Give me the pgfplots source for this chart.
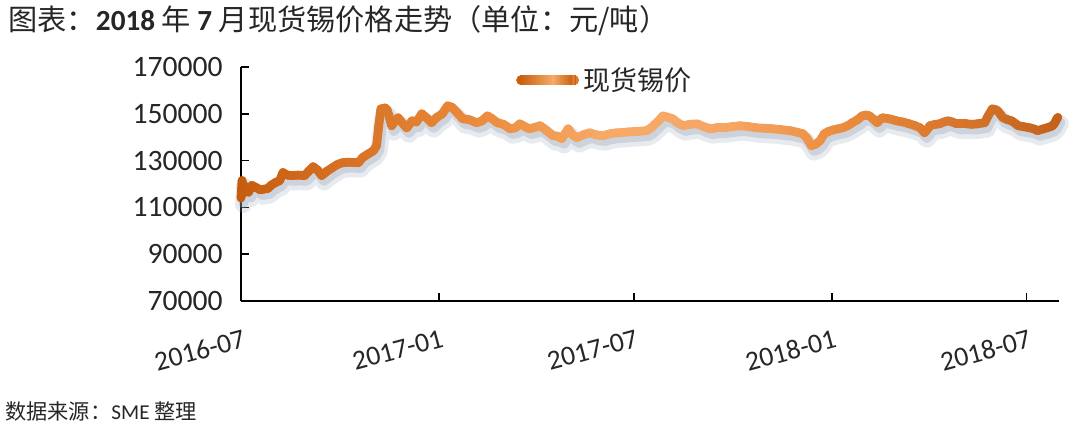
\documentclass[border=0pt]{standalone}
\usepackage{pgfplots}
\pgfplotsset{compat=1.18}
\usepackage{pgfplotstable}
\usepackage{fontspec}
\setmainfont{Carlito}
\newfontfamily\cjk{Noto Sans CJK SC}

\pgfplotstableread{
d price
0 114000
1 121500
2 116000
4 119000
7 116500
10 119400
14 118500
18 117500
25 118100
28 119500
32 120600
36 121500
39 124900
43 123800
47 123600
53 123800
59 123600
63 125500
67 127400
71 126000
75 123600
80 125500
85 127000
89 128200
94 129100
100 129300
109 129100
113 131300
118 132800
123 134200
126 136400
128 145000
130 152100
134 152500
136 151500
140 144900
143 147000
146 148300
150 146000
154 144000
159 147000
163 146500
168 150000
173 148000
177 146200
182 148500
187 150000
192 153400
196 152800
201 150400
206 147900
212 147500
219 146200
224 147000
229 149100
233 148000
238 146200
244 145500
250 143600
255 144000
259 145700
264 144500
268 143600
273 144200
278 144900
284 142800
290 140600
294 140500
298 139400
301 141500
304 143600
308 141000
312 139800
318 141000
324 141900
330 141000
336 140600
343 141500
349 141900
355 142000
361 142300
369 142500
377 142800
381 144000
385 145700
389 147500
392 149100
397 148500
401 147900
406 146000
411 144900
417 145500
424 145700
430 144500
436 143600
442 144000
448 144000
456 144500
464 144900
472 144500
479 144000
487 143800
494 143600
502 143200
510 142800
516 142200
522 141500
526 139500
530 136400
534 137000
538 138500
542 141500
546 142500
550 143100
555 143600
559 144000
564 145000
568 146200
573 147500
577 149100
581 149500
584 149100
588 147500
591 146200
594 147500
596 148300
603 147800
609 147000
615 146500
621 145700
626 145000
631 144000
635 141900
638 143500
640 144900
645 145500
649 145700
653 146500
657 147000
661 146500
665 145700
670 145700
674 145700
679 145500
684 145700
691 146200
694 149000
698 152100
701 151800
703 151300
706 149500
708 148300
712 147500
716 147000
719 146000
722 144900
727 144500
733 144000
737 143500
740 142800
745 143500
749 144000
752 144500
754 144900
756 146000
758 147900
759 148500
}\tinprice

\definecolor{darkor}{RGB}{200,96,14}
\definecolor{midor}{RGB}{222,122,44}
\definecolor{lightor}{RGB}{246,170,104}
\definecolor{shadowc}{RGB}{145,158,180}

\begin{document}
\begin{tikzpicture}
\begin{axis}[
  scale only axis,
  width=409bp, height=117bp,
  xmin=0, xmax=760,
  ymin=70000, ymax=170000,
  axis x line*=bottom,
  axis y line*=left,
  axis line style={line width=0.9bp, black},
  tick style={line width=0.8bp, black},
  tick align=inside,
  major tick length=4bp,
  xtick={0,184,365,549,730},
  xticklabels={2016-07,2017-01,2017-07,2018-01,2018-07},
  ytick={70000,90000,110000,130000,150000,170000},
  scaled y ticks=false,
  /pgf/number format/fixed,
  /pgf/number format/precision=0,
  /pgf/number format/1000 sep={},
  /pgf/number format/assume math mode=true,
  yticklabel style={font=\fontsize{14.8bp}{16bp}\selectfont, text=black!85,
    anchor=east, inner sep=0pt, xshift=-9bp},
  xticklabel style={font=\fontsize{13.8bp}{15bp}\selectfont, text=black!85,
    rotate=15, anchor=north east, inner sep=0pt, yshift=-13.5bp, xshift=-3bp},
  clip=false,
  colormap={tin}{rgb255(0cm)=(198,92,14); rgb255(3cm)=(236,140,62); rgb255(4.5cm)=(247,170,104); rgb255(6cm)=(246,166,100); rgb255(7.5cm)=(234,138,60); rgb255(10cm)=(196,98,28)},
  point meta min=0, point meta max=760,
  legend style={at={(0.336,0.944)}, anchor=west, draw=none, fill=none,
    inner sep=0pt, font=\cjk\fontsize{13.5bp}{15bp}\selectfont, text=black!85,
    /tikz/every even column/.append style={column sep=1bp}},
]
% legend image (gradient stroke)
\addlegendimage{legend image code/.code={%
  \fill[darkor] (2.3bp,0) circle (2.3bp);
  \fill[midor] (28.7bp,0) circle (2.3bp);
  \foreach \i in {2,...,28}{%
    \pgfmathsetmacro\p{\i<=18 ? 100*(\i-2)/16 : 100-100*(\i-18)/10}%
    \fill[color=lightor!\p!darkor] (\i*1bp,-2.3bp) rectangle (\i*1bp+1.2bp,2.3bp);
  }%
  \fill[color=midor] (28bp,-2.3bp) rectangle (28.8bp,2.3bp);
}}
\addlegendentry{现货锡价}
% shadow
\addplot[forget plot, color=shadowc, opacity=0.22, line width=8.5bp,
  line cap=round, line join=round, xshift=1.2bp, yshift=-3.2bp] table[x=d, y=price] {\tinprice};
\addplot[forget plot, color=shadowc, opacity=0.3, line width=5bp,
  line cap=round, line join=round, xshift=1.2bp, yshift=-2.6bp] table[x=d, y=price] {\tinprice};
% main line
\addplot[forget plot, mesh, point meta=x, line width=4.4bp, line cap=round, line join=round]
  table[x=d, y=price] {\tinprice};
\end{axis}
\node[anchor=west, inner sep=0pt, text=black!85] at (-116.5bp,140bp)
  {\cjk\fontsize{14.6bp}{16bp}\selectfont 图表：{\fontspec{Carlito}\bfseries 2018} 年 {\fontspec{Carlito}\bfseries 7} 月现货锡价格走势（单位：元/吨）};
\node[anchor=west, inner sep=0pt, text=black!85] at (-118bp,-55bp)
  {\cjk\fontsize{10.6bp}{12bp}\selectfont 数据来源：{\fontspec{Carlito}SME} 整理};
\pgfresetboundingbox
\path[use as bounding box] (-120.5bp,-64bp) rectangle (419.5bp,150.5bp);
\end{tikzpicture}
\end{document}
